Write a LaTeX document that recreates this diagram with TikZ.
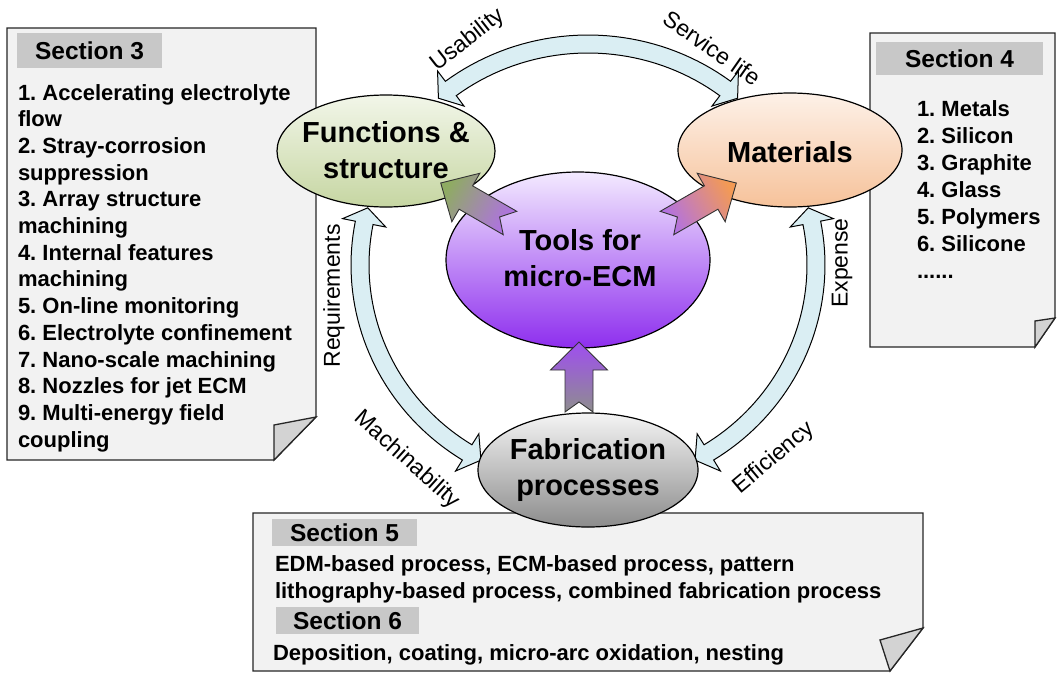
\documentclass[tikz,border=0pt]{standalone}
\usepackage{fontspec}
\setmainfont{Liberation Sans}
\frenchspacing
\usetikzlibrary{shapes.geometric}

\definecolor{paper}{HTML}{F2F2F2}
\definecolor{tabgray}{HTML}{C8C8C8}
\definecolor{foldgray}{HTML}{D3D3D3}
\definecolor{bandblue}{HTML}{DAEEF3}
\definecolor{greenT}{HTML}{F2F6E9}
\definecolor{greenB}{HTML}{C6D6A2}
\definecolor{peachT}{HTML}{FDF1E8}
\definecolor{peachB}{HTML}{F6C29A}
\definecolor{violetT}{HTML}{F3EAFF}
\definecolor{violetM}{HTML}{BF8AF5}
\definecolor{violetB}{HTML}{8E2EEE}
\definecolor{grayT}{HTML}{F4F4F4}
\definecolor{grayB}{HTML}{8C8C8C}
\definecolor{headgreen}{HTML}{8FAB63}
\definecolor{headorange}{HTML}{F39A55}
\definecolor{tailviolet}{HTML}{B070E6}
\definecolor{stemgray}{HTML}{8E8E8E}

\tikzset{
  every node/.style={inner sep=0pt, outer sep=0pt},
  page/.style={fill=paper, draw=black!85, line width=1.3pt, line join=miter},
  fold/.style={fill=foldgray, draw=black!85, line width=1.3pt, line join=miter},
  tab/.style={fill=tabgray, font=\fontsize{24.5}{28}\selectfont\bfseries},
  item/.style={font=\fontsize{22}{26}\selectfont\bfseries, anchor=base west},
  bubble/.style={ellipse, draw=black, line width=1.2pt},
  bubbletext/.style={align=center, font=\fontsize{29}{36}\selectfont\bfseries},
  band/.style={fill=bandblue, draw=black, line width=1pt, line join=miter},
  cue/.style={font=\fontsize{23}{27}\selectfont},
  blockarrow/.style={draw=black!80, line width=0.9pt, line join=miter},
}

% curved double-headed band on the ring round the centre; #1 < #2 are the tip angles
\newcommand{\ecmband}[2]{%
  \pgfmathsetmacro{\bandA}{#1+4}%
  \pgfmathsetmacro{\bandB}{#2-4}%
  \filldraw[band]
    plot[domain=0:1, samples=40]
      ({588+237*cos(\bandA+((\bandB)-(\bandA))*\x)},{265+230*sin(\bandA+((\bandB)-(\bandA))*\x)})
    -- ({588+250*cos(\bandB)},{265+243*sin(\bandB)})
    -- ({588+228*cos(#2)},{265+221*sin(#2)})
    -- ({588+206*cos(\bandB)},{265+199*sin(\bandB)})
    -- ({588+219*cos(\bandB)},{265+212*sin(\bandB)})
    -- plot[domain=0:1, samples=40]
      ({588+219*cos(\bandB+((\bandA)-(\bandB))*\x)},{265+212*sin(\bandB+((\bandA)-(\bandB))*\x)})
    -- ({588+206*cos(\bandA)},{265+199*sin(\bandA)})
    -- ({588+228*cos(#1)},{265+221*sin(#1)})
    -- ({588+250*cos(\bandA)},{265+243*sin(\bandA)})
    -- cycle;
}

\begin{document}
\begin{tikzpicture}[x=1pt, y=-1pt]
\useasboundingbox (0,0) rectangle (1057,673);
\fill[white] (0,0) rectangle (1057,673);

% ---- note sheets with curled corners ----
\draw[page] (7,28) -- (316,28) -- (316,417) -- (274,460) -- (7,460) -- cycle;
\draw[fold] (316,417) -- (274,425) -- (274,460) -- cycle;

\draw[page] (870,33) -- (1055,33) -- (1055,318) -- (1035,347) -- (870,347) -- cycle;
\draw[fold] (1055,318) -- (1035,321) -- (1035,347) -- cycle;

\draw[page] (253,513) -- (923,513) -- (923,628) -- (890,671) -- (253,671) -- cycle;
\draw[fold] (923,628) -- (880,640) -- (890,671) -- cycle;

% ---- section tabs ----
\node[tab, minimum width=145pt, minimum height=35pt] (tab3) at (89.5,50.5) {Section 3};
\node[tab, minimum width=167pt, minimum height=33pt] (tab4) at (959.5,58.5) {Section 4};
\node[tab, minimum width=145pt, minimum height=27pt] (tab5) at (344.5,532.5) {Section 5};
\node[tab, minimum width=143pt, minimum height=27pt] (tab6) at (347.5,620.5) {Section 6};

% ---- section texts ----
\foreach \t [count=\i from 0] in {1. Accelerating electrolyte, flow, 2. Stray-corrosion,
  suppression, 3. Array structure, machining, 4. Internal features, machining,
  5. On-line monitoring, 6. Electrolyte confinement, 7. Nano-scale machining,
  8. Nozzles for jet ECM, 9. Multi-energy field, coupling}
  \node[item] (sthree\i) at (18,{100+26.7*\i}) {\t};

\foreach \t [count=\i from 0] in {1. Metals, 2. Silicon, 3. Graphite, 4. Glass,
  5. Polymers, 6. Silicone}
  \node[item] (sfour\i) at (917,{116+27*\i}) {\t};
\node[item] (sfourmore) at (917,278) {......};

\node[item] (sfiveA) at (275,571) {EDM-based process, ECM-based process, pattern};
\node[item] (sfiveB) at (275,598) {lithography-based process, combined fabrication process};
\node[item] (ssixA) at (273,660) {Deposition, coating, micro-arc oxidation, nesting};

% ---- curved relation bands ----
\ecmband{-131}{-49}
\ecmband{118}{195}
\ecmband{-15}{62}

% ---- topic ellipses ----
\node[bubble, minimum width=218pt, minimum height=112pt, top color=greenT, bottom color=greenB] (func) at (386,151) {};
\node[bubble, minimum width=224pt, minimum height=114pt, top color=peachT, bottom color=peachB] (mat) at (790,150) {};
\node[bubble, minimum width=264pt, minimum height=176pt, top color=violetT, middle color=violetM, bottom color=violetB] (tools) at (578,260) {};
\node[bubble, minimum width=220pt, minimum height=114pt, top color=grayT, bottom color=grayB] (fab) at (588,470) {};

\node[bubbletext] (functxt) at (386,150) {Functions \&\\structure};
\node[bubbletext] (mattxt) at (790,152) {Materials};
\node[bubbletext] (toolstxt) at (580,258) {Tools for\\micro-ECM};
\node[bubbletext] (fabtxt) at (588,470) {Fabrication\\processes};

% ---- notched block arrows out of the centre ----
\shadedraw[blockarrow, top color=headgreen, bottom color=tailviolet, shading angle=60,
  shift={(510,223)}, rotate=150]
  (0,-13.5) -- (51,-13.5) -- (51,-28) -- (80,0) -- (51,28) -- (51,13.5) -- (0,13.5) -- (12,0) -- cycle;
\shadedraw[blockarrow, top color=headorange, bottom color=tailviolet, shading angle=-60,
  shift={(667,223)}, rotate=30]
  (0,-13.5) -- (51,-13.5) -- (51,-28) -- (80,0) -- (51,28) -- (51,13.5) -- (0,13.5) -- (12,0) -- cycle;
\shadedraw[blockarrow, top color=violetB!85, bottom color=stemgray,
  shift={(579,412)}, rotate=90]
  (0,-14) -- (42,-14) -- (42,-28.5) -- (70,0) -- (42,28.5) -- (42,14) -- (0,14) -- (10,0) -- cycle;

% ---- band captions ----
\node[cue, rotate=38] (lusab) at (468,40) {Usability};
\node[cue, rotate=-35] (lserv) at (712,48) {Service life};
\node[cue, rotate=90] (lreq) at (334,296) {Requirements};
\node[cue, rotate=90] (lexp) at (842,263) {Expense};
\node[cue, rotate=-42] (lmach) at (407,460) {Machinability};
\node[cue, rotate=40] (leff) at (774,458) {Efficiency};
\end{tikzpicture}
\end{document}
